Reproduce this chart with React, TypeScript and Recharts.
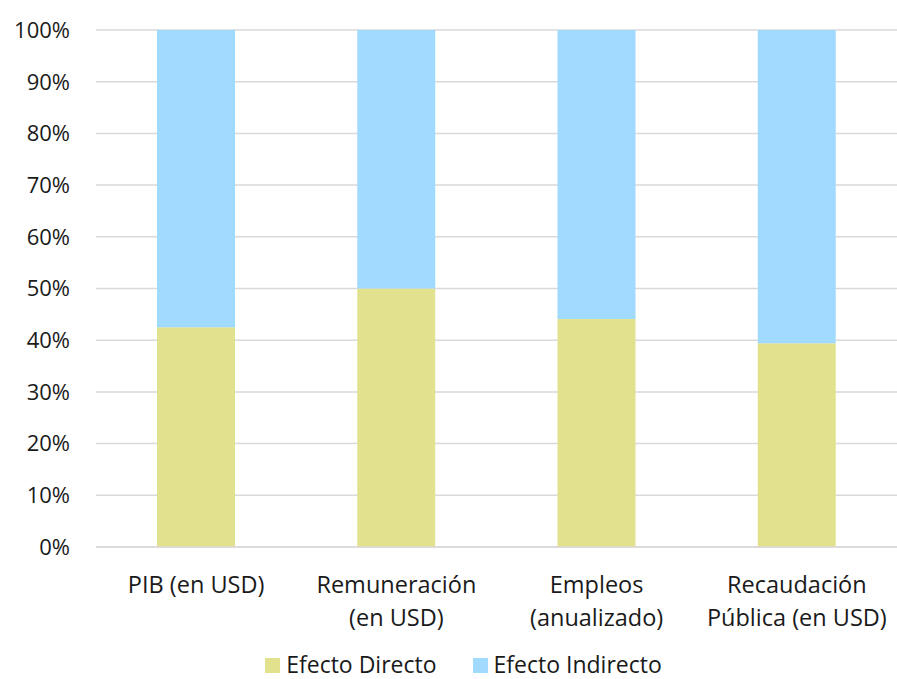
import { BarChart, Bar, XAxis, YAxis, CartesianGrid, Legend } from "recharts";

// Share of total impact, direct vs indirect
const categories = ["PIB (en USD)", "Remuneración (en USD)", "Empleos (anualizado)", "Recaudación Pública (en USD)"];
const categoryLines = [
  ["PIB (en USD)"],
  ["Remuneración", "(en USD)"],
  ["Empleos", "(anualizado)"],
  ["Recaudación", "Pública (en USD)"],
];
const directo = [42.5, 50.0, 44.1, 39.4];
const indirecto = [57.5, 50.0, 55.9, 60.6];
const yTicks = [0, 10, 20, 30, 40, 50, 60, 70, 80, 90, 100];

const data = categories.map((c, i) => ({
  name: c,
  directo: directo[i],
  indirecto: indirecto[i],
}));

const FONT = "'Open Sans', sans-serif";
const COLOR_DIRECTO = "#E2E28E";
const COLOR_INDIRECTO = "#A0DBFF";

const CategoryTick = (props: any) => {
  const { x, y, index } = props;
  const lines = categoryLines[index] || [];
  return (
    <text x={x} y={y} textAnchor="middle" fill="#1a1a1a" fontSize={23.5} fontFamily={FONT}>
      {lines.map((l, i) => (
        <tspan key={i} x={x} dy={i === 0 ? 44 : 33}>
          {l}
        </tspan>
      ))}
    </text>
  );
};

const LegendContent = () => {
  const items = [
    { label: "Efecto Directo", color: COLOR_DIRECTO },
    { label: "Efecto Indirecto", color: COLOR_INDIRECTO },
  ];
  return (
    <div
      style={{
        display: "flex",
        justifyContent: "center",
        alignItems: "center",
        height: 31,
        fontFamily: FONT,
        fontSize: 23,
        color: "#1a1a1a",
        paddingLeft: 30,
      }}
    >
      {items.map((it, i) => (
        <div key={i} style={{ display: "flex", alignItems: "center", marginRight: i === 0 ? 36 : 0 }}>
          <span style={{ width: 15, height: 15, background: it.color, display: "block", marginRight: 6, marginTop: 4 }} />
          <span>{it.label}</span>
        </div>
      ))}
    </div>
  );
};

export default function App() {
  return (
    <div style={{ position: "absolute", left: 0, top: 0, width: 897, height: 679, background: "#fff" }}>
      <BarChart width={897} height={679} data={data} margin={{ top: 30, right: 0, left: 0, bottom: 0 }}>
        <CartesianGrid vertical={false} stroke="#d9d9d9" strokeWidth={1.5} />
        <XAxis
          dataKey="name"
          interval={0}
          tickLine={false}
          tickSize={0}
          axisLine={{ stroke: "#d9d9d9", strokeWidth: 1.5 }}
          height={101}
          tick={<CategoryTick />}
        />
        <YAxis
          type="number"
          domain={[0, 100]}
          ticks={yTicks}
          tickFormatter={(v: number) => `${v}%`}
          width={96}
          axisLine={false}
          tickLine={false}
          tickSize={0}
          tickMargin={26}
          tick={{ fontSize: 22, fill: "#1a1a1a", fontFamily: FONT }}
        />
        <Legend verticalAlign="bottom" content={<LegendContent />} />
        <Bar dataKey="directo" stackId="a" fill={COLOR_DIRECTO} barSize={78} isAnimationActive={false} />
        <Bar dataKey="indirecto" stackId="a" fill={COLOR_INDIRECTO} barSize={78} isAnimationActive={false} />
      </BarChart>
    </div>
  );
}
